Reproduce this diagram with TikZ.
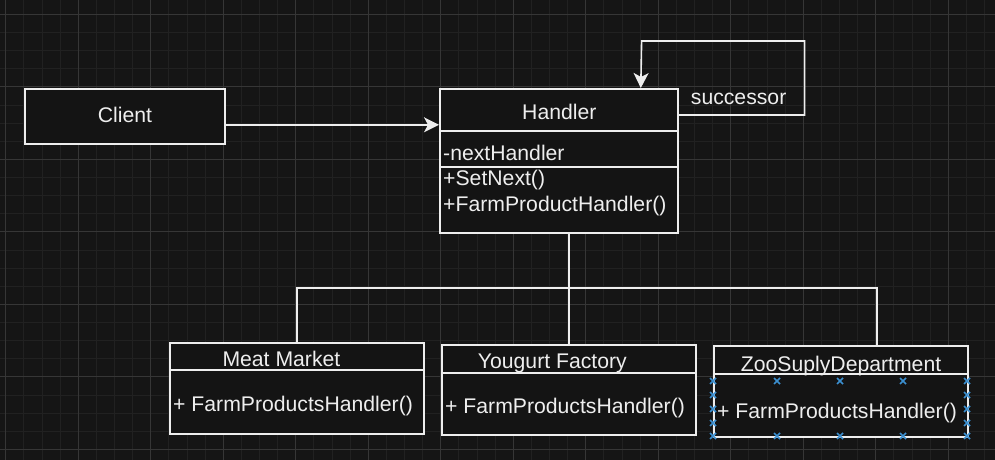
\documentclass[tikz,border=0pt]{standalone}
\usepackage{fontspec}
\setmainfont{Liberation Sans}
\usetikzlibrary{arrows.meta,calc}
\definecolor{bg}{HTML}{151515}
\definecolor{minorgrid}{HTML}{212121}
\definecolor{majorgrid}{HTML}{363636}
\definecolor{ink}{HTML}{EEEEEE}
\definecolor{boxfill}{HTML}{141414}
\definecolor{handle}{HTML}{3B8FD0}
\begin{document}
\begin{tikzpicture}[x=1pt,y=-1pt,
  box/.style={draw=ink,fill=boxfill,line width=1.6pt,rectangle,inner sep=0pt,anchor=north west},
  txt/.style={text=ink,font=\fontsize{21.2}{24}\selectfont,inner sep=0pt},
  conn/.style={draw=ink,line width=1.6pt},
  arr/.style={conn,-{Stealth[length=15pt,width=15pt,inset=4pt,fill=ink]}},
  sep/.style={draw=ink,line width=1.6pt},
  selmark/.style={draw=handle,line width=1.5pt}
]
% background and grid
\fill[bg] (0,0) rectangle (995,460);
\useasboundingbox (0,0) rectangle (995,460);
\foreach \i in {0,...,54} {\draw[minorgrid,line width=0.8pt] ({5.7+18.125*\i},0) -- ({5.7+18.125*\i},460);}
\foreach \j in {0,...,25} {\draw[minorgrid,line width=0.8pt] (0,{14.3+18.125*\j}) -- (995,{14.3+18.125*\j});}
\foreach \i in {0,...,13} {\draw[majorgrid,line width=0.9pt] ({5.7+72.5*\i},0) -- ({5.7+72.5*\i},460);}
\foreach \j in {0,...,6} {\draw[majorgrid,line width=0.9pt] (0,{14.3+72.5*\j}) -- (995,{14.3+72.5*\j});}

% boxes
\node[box,minimum width=200pt,minimum height=55pt] (client) at (24,88) {};
\node[box,minimum width=238pt,minimum height=144pt] (handler) at (439,88) {};
\node[box,minimum width=254pt,minimum height=91pt] (meat) at (169,342) {};
\node[box,minimum width=254pt,minimum height=90pt] (yogurt) at (441,344) {};
\node[box,minimum width=254pt,minimum height=91pt] (zoo) at (713,345) {};

% separators
\draw[sep] (handler.west |- 0,131) -- (handler.east |- 0,131);
\draw[sep] (handler.west |- 0,167) -- (handler.east |- 0,167);
\draw[sep] (meat.west |- 0,370) -- (meat.east |- 0,370);
\draw[sep] (yogurt.west |- 0,373) -- (yogurt.east |- 0,373);
\draw[sep] (zoo.west |- 0,374) -- (zoo.east |- 0,374);

% texts
\node[txt,anchor=base west] (tclient) at (97.7,122) {Client};
\node[txt,anchor=base west] (thandler) at (522,119.3) {Handler};
\node[txt,anchor=base west] (tnext) at (443,160) {-nextHandler};
\node[txt,anchor=base west] (tset) at (443,185.7) {+SetNext()};
\node[txt,anchor=base west] (tfarm) at (443,211.7) {+FarmProductHandler()};
\node[txt,anchor=base west] (tsucc) at (690.7,104) {successor};
\node[txt,anchor=base west] (tmeat) at (222.3,366.7) {Meat Market};
\node[txt,anchor=base west] (mmeat) at (173,411.7) {+ FarmProductsHandler()};
\node[txt,anchor=base west] (tyog) at (477.7,368.3) {Yougurt Factory};
\node[txt,anchor=base west] (myog) at (445,413.3) {+ FarmProductsHandler()};
\node[txt,anchor=base west] (tzoo) at (740.7,371) {ZooSuplyDepartment};
\node[txt,anchor=base west] (mzoo) at (717,418.3) {+ FarmProductsHandler()};

% connectors
\draw[arr] ([yshift=-8.5pt]client.east) -- ([yshift=-8.5pt]client.east -| handler.west);
\draw[arr] ([yshift=-27pt]handler.north east) -- ++(126,0) -- ++(0,-74) -- ++(-163,0) -- ([xshift=82pt]handler.north);
\coordinate (bus) at (568,288);
\draw[conn] ([xshift=10pt]handler.south) -- (yogurt.north);
\draw[conn] (meat.north) |- (bus) -| ([xshift=36pt]zoo.north);

% selection handles on ZooSuplyDepartment
\foreach \p in {(713,381),(713,395),(713,409),(713,423),(713,436),
                (967,381),(967,395),(967,409),(967,423),(967,436),
                (777,381),(840,381),(903,381),(777,436),(840,436),(903,436)} {
  \draw[selmark] \p ++(-3,-3) -- ++(6,6) \p ++(-3,3) -- ++(6,-6);
}
\end{tikzpicture}
\end{document}
